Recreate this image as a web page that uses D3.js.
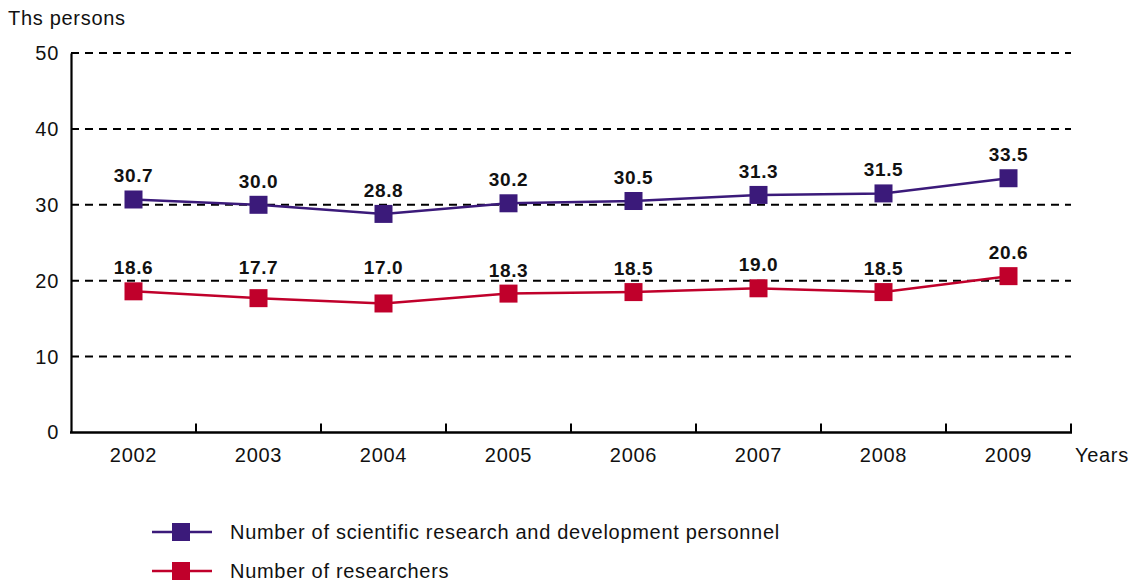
<!DOCTYPE html>
<html>
<head>
<meta charset="utf-8">
<script src="https://cdn.jsdelivr.net/npm/d3@7"></script>
<style>
  html, body { margin: 0; padding: 0; background: #fff; }
  svg { display: block; font-family: "Liberation Sans", Arial, sans-serif; }
  .lbl { font-size: 20px; letter-spacing: 0.7px; fill: #111; }
</style>
</head>
<body>
<svg id="chart" width="1129" height="581"></svg>
<script>
// Staff engaged in R&D, thousand persons
const years = ["2002", "2003", "2004", "2005", "2006", "2007", "2008", "2009"];
const personnel = [30.7, 30.0, 28.8, 30.2, 30.5, 31.3, 31.5, 33.5];
const researchers = [18.6, 17.7, 17.0, 18.3, 18.5, 19.0, 18.5, 20.6];
const yTicks = [0, 10, 20, 30, 40, 50];
const seriesNames = [
  "Number of scientific research and development personnel",
  "Number of researchers"
];
const seriesColors = ["#3b1a7a", "#c0002b"];

const svg = d3.select("#chart");
const plotLeft = 71, plotRight = 1071, plotTop = 53, plotBottom = 432.5;

const x = d3.scaleBand().domain(years).range([plotLeft, plotRight]);
const y = d3.scaleLinear().domain([0, 50]).range([plotBottom, plotTop]);

// Dashed horizontal gridlines
const gridYs = yTicks.filter(d => d > 0).map(d => y(d));
svg.append("g")
  .selectAll("line")
  .data(gridYs)
  .join("line")
  .attr("x1", plotLeft).attr("x2", plotRight)
  .attr("y1", d => d).attr("y2", d => d)
  .attr("stroke", "#000")
  .attr("stroke-width", 2)
  .attr("stroke-dasharray", "8,6");

// Y axis
const yAxis = svg.append("g")
  .attr("transform", `translate(${plotLeft},0)`)
  .call(d3.axisLeft(y).tickValues(yTicks).tickSize(0).tickPadding(12));
yAxis.select(".domain").attr("stroke", "#000").attr("stroke-width", 2.2);
yAxis.selectAll("text")
  .attr("class", "lbl")
  .attr("font-size", null)
  .attr("font-family", null)
  .attr("fill", null);

// X axis: boundary ticks pointing up, labels centred in each band
const xg = svg.append("g");
xg.append("line")
  .attr("x1", plotLeft - 1).attr("x2", plotRight + 1)
  .attr("y1", plotBottom).attr("y2", plotBottom)
  .attr("stroke", "#000").attr("stroke-width", 2.4);
const bounds = years.map(d => x(d)).concat([plotRight]);
xg.selectAll("line.tick")
  .data(bounds.slice(1))
  .join("line")
  .attr("class", "tick")
  .attr("x1", d => d).attr("x2", d => d)
  .attr("y1", plotBottom).attr("y2", plotBottom - 9)
  .attr("stroke", "#000").attr("stroke-width", 2);
xg.selectAll("text")
  .data(years)
  .join("text")
  .attr("class", "lbl")
  .attr("x", d => x(d) + x.bandwidth() / 2)
  .attr("y", 462)
  .attr("text-anchor", "middle")
  .text(d => d);

// Axis titles
svg.append("text").attr("class", "lbl").attr("x", 8).attr("y", 25).text("Ths persons");
svg.append("text").attr("class", "lbl").attr("x", 1075).attr("y", 462).text("Years");

// Series
const series = [personnel, researchers];
const cx = d => x(d) + x.bandwidth() / 2;
const line = d3.line().x(d => cx(d.year)).y(d => y(d.value));
const ms = 18;

// Value label baseline: sits above the marker, lifted clear of any gridline it would cross
function labelBaseline(v) {
  let b = y(v) - 17;
  const capH = 14;
  gridYs.forEach(g => {
    if (b > g - 3 && b - capH < g + 3) b = g - 7;
  });
  return b;
}

series.forEach((vals, i) => {
  const data = years.map((yr, j) => ({ year: yr, value: vals[j] }));
  const g = svg.append("g");
  g.append("path")
    .datum(data)
    .attr("d", line)
    .attr("fill", "none")
    .attr("stroke", seriesColors[i])
    .attr("stroke-width", 2.5);
  g.selectAll("rect")
    .data(data)
    .join("rect")
    .attr("x", d => cx(d.year) - ms / 2)
    .attr("y", d => y(d.value) - ms / 2)
    .attr("width", ms).attr("height", ms)
    .attr("fill", seriesColors[i]);
  g.selectAll("text")
    .data(data)
    .join("text")
    .attr("x", d => cx(d.year))
    .attr("y", d => labelBaseline(d.value))
    .attr("text-anchor", "middle")
    .attr("font-size", 19)
    .attr("font-weight", "bold")
    .attr("letter-spacing", "0.6px")
    .attr("fill", "#111")
    .text(d => d.value.toFixed(1));
});

// Legend
const legend = svg.append("g");
seriesNames.forEach((name, i) => {
  const ly = 532 + i * 39;
  legend.append("line")
    .attr("x1", 152).attr("x2", 212)
    .attr("y1", ly).attr("y2", ly)
    .attr("stroke", seriesColors[i]).attr("stroke-width", 2.5);
  legend.append("rect")
    .attr("x", 181 - ms / 2).attr("y", ly - ms / 2)
    .attr("width", ms).attr("height", ms)
    .attr("fill", seriesColors[i]);
  legend.append("text")
    .attr("class", "lbl")
    .attr("x", 230).attr("y", ly + 6.5)
    .text(name);
});
</script>
</body>
</html>
